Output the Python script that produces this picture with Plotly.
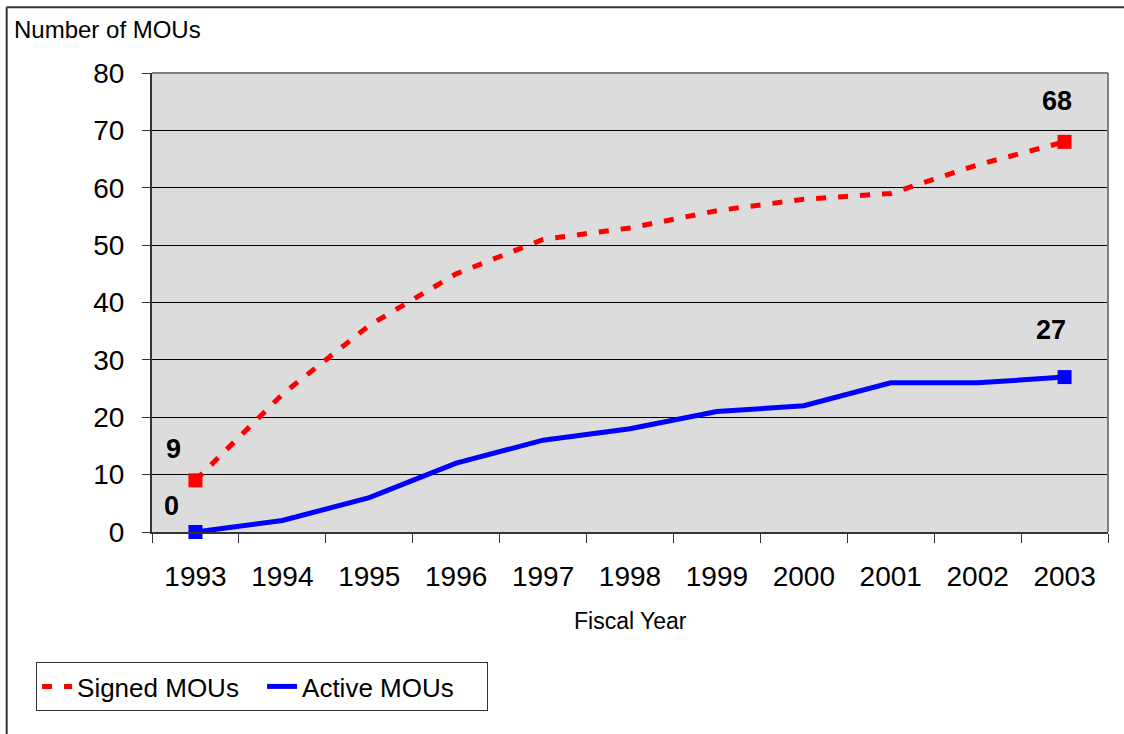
import plotly.graph_objects as go

years = ["1993", "1994", "1995", "1996", "1997", "1998", "1999", "2000", "2001", "2002", "2003"]
signed = [9, 24, 36, 45, 51, 53, 56, 58, 59, 64, 68]
active = [0, 2, 6, 12, 16, 18, 21, 22, 26, 26, 27]
y_ticks = [0, 10, 20, 30, 40, 50, 60, 70, 80]

FONT = "Liberation Sans, Arial, sans-serif"
RED = "#ff0000"
BLUE = "#0000ff"

fig = go.Figure()
fig.add_trace(go.Scatter(x=years, y=signed, mode="lines", name="Signed MOUs",
                         line=dict(color=RED, width=5, dash="10px,12px")))
fig.add_trace(go.Scatter(x=years, y=active, mode="lines", name="Active MOUs",
                         line=dict(color=BLUE, width=5)))
# endpoint markers
fig.add_trace(go.Scatter(x=[years[0], years[-1]], y=[signed[0], signed[-1]], mode="markers",
                         marker=dict(symbol="square", size=14, color=RED), showlegend=False,
                         cliponaxis=False))
fig.add_trace(go.Scatter(x=[years[0], years[-1]], y=[active[0], active[-1]], mode="markers",
                         marker=dict(symbol="square", size=14, color=BLUE), showlegend=False,
                         cliponaxis=False))

# data labels (x given as category index)
last = len(years) - 1
label_specs = [
    (0, signed[0], -22, 31),
    (0, active[0], -24, 26),
    (last, signed[-1], -8, 41),
    (last, active[-1], -14, 47),
]
for xi, y, xs, ys in label_specs:
    fig.add_annotation(x=xi, y=y, xref="x", yref="y", text=f"<b>{y}</b>", showarrow=False,
                       xshift=xs, yshift=ys,
                       font=dict(family=FONT, size=27, color="black"))

fig.add_annotation(xref="paper", yref="paper", x=-0.1464, y=1.0937, xanchor="left", yanchor="middle",
                   text="Number of MOUs", showarrow=False,
                   font=dict(family=FONT, size=24, color="black"))
fig.add_annotation(xref="paper", yref="paper", x=0.5, y=-0.194, xanchor="center", yanchor="middle",
                   text="Fiscal Year", showarrow=False,
                   font=dict(family=FONT, size=23, color="black"))

# outer frame
fig.add_shape(type="line", xref="paper", yref="paper", x0=-0.152, x1=1.1, y0=1.143, y1=1.143,
              line=dict(color="#333333", width=2))
fig.add_shape(type="line", xref="paper", yref="paper", x0=-0.152, x1=-0.152, y0=1.143, y1=-0.5,
              line=dict(color="#333333", width=2))

fig.update_layout(
    width=1124, height=734,
    margin=dict(l=152, r=16, t=73, b=202),
    paper_bgcolor="white",
    plot_bgcolor="#dcdcdc",
    font=dict(family=FONT, color="black"),
    showlegend=True,
    legend=dict(orientation="h", x=-0.1213, y=-0.2832, xanchor="left", yanchor="top",
                bordercolor="#333333", borderwidth=1, bgcolor="white",
                font=dict(family=FONT, size=26, color="black"),
                tracegroupgap=0, itemsizing="constant", entrywidth=180),
    xaxis=dict(type="category", categoryorder="array", categoryarray=years,
               range=[-0.5, len(years) - 0.5],
               showgrid=False, tickson="boundaries", ticks="outside", ticklen=9,
               tickcolor="#333333", showline=True, linecolor="#333333", linewidth=2,
               tickfont=dict(family=FONT, size=28), ticklabelstandoff=18,
               mirror=False, zeroline=False),
    yaxis=dict(range=[0, 80], tickvals=y_ticks, showgrid=True, gridcolor="black", gridwidth=1,
               ticks="outside", ticklen=8, tickcolor="#333333",
               showline=True, linecolor="#333333", linewidth=2,
               tickfont=dict(family=FONT, size=28), ticklabelstandoff=12, zeroline=False),
)
# gray top/right plot border
fig.add_shape(type="line", xref="paper", yref="paper", x0=0, x1=1, y0=1, y1=1,
              line=dict(color="#808080", width=2))
fig.add_shape(type="line", xref="paper", yref="paper", x0=1, x1=1, y0=0, y1=1,
              line=dict(color="#808080", width=2))

fig.write_html("out.html", config={"displayModeBar": False},
               post_script="document.body.style.margin='0';")
